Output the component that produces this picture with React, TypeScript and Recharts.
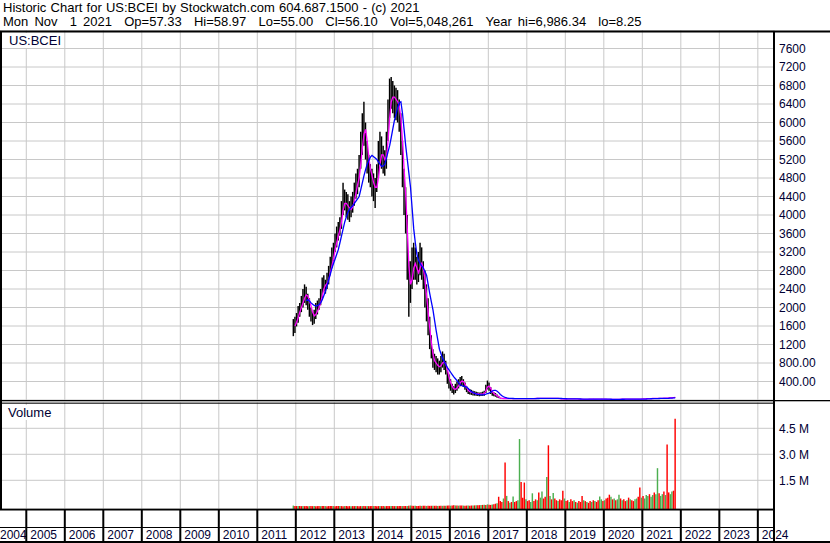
import React from 'react';
import { ComposedChart, Bar, Line, XAxis, YAxis, CartesianGrid, Cell } from 'recharts';

const FONT = '"Liberation Sans", Arial, sans-serif';
const LABEL = '#000033';

const HEADER_1 = 'Historic Chart for US:BCEI by Stockwatch.com 604.687.1500 - (c) 2021';
const HEADER_2 =
  'Mon Nov  1 2021  Op=57.33  Hi=58.97  Lo=55.00  Cl=56.10  Vol=5,048,261  Year hi=6,986.34  lo=8.25';

// half-month periods, the first one is the first half of Dec 2011 (IPO)
const FIRST_PERIOD = 2011 + 11 / 12 + 1 / 48;
const X_MIN = 2004.317;
const X_MAX = 2024.42;

const yearTicks = [2004, 2005, 2006, 2007, 2008, 2009, 2010, 2011, 2012, 2013, 2014, 2015, 2016, 2017, 2018, 2019, 2020, 2021, 2022, 2023, 2024];
const priceTicks = [400, 800, 1200, 1600, 2000, 2400, 2800, 3200, 3600, 4000, 4400, 4800, 5200, 5600, 6000, 6400, 6800, 7200, 7600];
const volumeTicks = [1500, 3000, 4500]; // thousands

// one row per year (Dec..Nov), 24 half-month periods each
const priceHigh = [
  1750, 1800, 1880, 2030, 2100, 2250, 2400, 2500, 2450, 2300, 2200, 2000, 1900, 1950, 2100, 2150, 2200, 2400, 2650, 2700, 2600, 2750, 2900, 3100,
  3300, 3400, 3600, 3750, 3850, 3950, 4300, 4700, 4550, 4500, 4450, 4300, 4400, 4500, 4700, 4900, 5000, 5300, 5800, 6200, 6450, 6000, 5600, 5300,
  5100, 5000, 4900, 4800, 5100, 5600, 5800, 5700, 5500, 5400, 5800, 6500, 6950, 6986, 6900, 6800, 6750, 6700, 6500, 6200, 5600, 5000, 4600, 4000,
  3000, 3000, 3300, 3400, 3300, 3100, 3200, 3400, 3300, 3000, 2800, 2500, 2200, 1800, 1400, 1100, 1000, 950, 900, 850, 950, 1050, 1000, 850,
  650, 550, 450, 350, 300, 350, 400, 450, 500, 520, 450, 380, 300, 250, 240, 220, 200, 190, 180, 170, 160, 170, 180, 200,
  330, 420, 380, 280, 200, 170, 150, 120, 90, 36, 35, 34, 33, 32, 31, 30, 31, 32, 33, 34, 33, 32, 31, 31,
  30, 32, 33, 31, 30, 32, 34, 35, 36, 37, 36, 35, 34, 35, 37, 36, 35, 37, 38, 39, 40, 38, 32, 28,
  24, 23, 25, 26, 27, 28, 27, 26, 25, 24, 22, 20, 18, 16, 15, 17, 19, 21, 22, 23, 22, 21, 22, 23,
  23, 22, 21, 19, 16, 12, 13, 15, 16, 17, 18, 17, 18, 19, 20, 19, 18, 19, 20, 19, 18, 19, 20, 21,
  22, 24, 26, 28, 30, 31, 32, 33, 35, 36, 37, 38, 39, 38, 40, 41, 43, 45, 47, 50, 53, 56, 59,
];

const priceLow = [
  1380, 1450, 1590, 1670, 1800, 1900, 2000, 2100, 2050, 1950, 1800, 1700, 1620, 1650, 1750, 1850, 1950, 2050, 2200, 2350, 2300, 2400, 2500, 2700,
  2850, 3000, 3200, 3300, 3450, 3550, 3700, 4000, 4100, 3950, 3900, 3850, 3950, 4050, 4200, 4350, 4450, 4600, 5000, 5300, 5500, 5200, 4900, 4700,
  4600, 4400, 4300, 4150, 4500, 4800, 5100, 5000, 4900, 4850, 5000, 5600, 6100, 6300, 6200, 6100, 6050, 6000, 5800, 5300, 4600, 4000, 3600, 2600,
  1800, 2100, 2400, 2600, 2600, 2500, 2550, 2700, 2600, 2400, 2000, 1700, 1400, 1100, 900, 700, 650, 600, 550, 550, 600, 700, 650, 550,
  350, 250, 200, 150, 120, 150, 200, 250, 300, 320, 280, 220, 170, 130, 120, 110, 100, 95, 90, 85, 80, 85, 90, 90,
  150, 230, 200, 130, 90, 80, 70, 50, 40, 28, 29, 28, 27, 26, 26, 25, 26, 27, 28, 29, 28, 27, 26, 27,
  26, 27, 28, 27, 26, 28, 29, 30, 31, 32, 31, 30, 30, 31, 32, 30, 30, 32, 33, 34, 34, 31, 26, 22,
  19, 19, 21, 22, 23, 24, 23, 22, 21, 20, 18, 16, 15, 13, 12, 14, 15, 17, 18, 19, 18, 18, 19, 20,
  20, 19, 17, 15, 12, 8, 9, 11, 12, 13, 14, 14, 15, 15, 16, 16, 15, 16, 17, 16, 15, 16, 17, 18,
  18, 20, 22, 24, 25, 27, 28, 29, 30, 31, 32, 33, 34, 33, 35, 36, 37, 39, 41, 44, 47, 50, 55,
];

// short moving average (magenta)
const maShort = [
  null, 1600, 1680, 1780, 1900, 2000, 2100, 2200, 2270, 2250, 2150, 2030, 1900, 1820, 1850, 1920, 2000, 2100, 2250, 2400, 2480, 2520, 2600, 2750,
  2900, 3050, 3250, 3400, 3550, 3680, 3850, 4100, 4250, 4250, 4200, 4150, 4120, 4180, 4300, 4480, 4650, 4800, 5100, 5450, 5750, 5850, 5600, 5250,
  5000, 4850, 4700, 4600, 4600, 4800, 5100, 5300, 5300, 5200, 5250, 5600, 6100, 6450, 6550, 6550, 6500, 6450, 6350, 6100, 5600, 5000, 4450, 3700,
  2900, 2500, 2600, 2850, 2950, 2850, 2750, 2850, 2950, 2850, 2600, 2250, 1900, 1550, 1250, 1000, 850, 800, 750, 720, 740, 800, 830, 780,
  650, 500, 380, 300, 240, 230, 260, 310, 370, 410, 400, 340, 270, 210, 180, 170, 155, 145, 135, 130, 125, 125, 130, 140,
  200, 280, 300, 250, 180, 140, 115, 90, 65, 45, 33, 32, 31, 30, 29, 28, 28, 29, 30, 31, 31, 30, 29, 29,
  28, 29, 30, 30, 29, 29, 31, 32, 33, 34, 34, 33, 33, 33, 34, 34, 33, 34, 35, 36, 37, 36, 32, 27,
  23, 21, 22, 23, 24, 25, 25, 25, 24, 23, 21, 19, 17, 15, 14, 15, 16, 18, 19, 20, 20, 20, 20, 21,
  21, 21, 20, 18, 15, 12, 11, 12, 13, 14, 15, 15, 16, 17, 17, 17, 17, 17, 18, 18, 17, 17, 18, 19,
  19, 21, 23, 25, 27, 28, 29, 30, 32, 33, 34, 35, 36, 36, 37, 38, 39, 41, 43, 46, 49, 52, 55,
];

// long moving average (blue)
const maLong = [
  null, null, null, null, null, null, null, null, 2150, 2170, 2140, 2100, 2070, 2045, 2030, 2040, 2065, 2100, 2170, 2260, 2350, 2470, 2600, 2720,
  2850, 2950, 3050, 3150, 3250, 3400, 3550, 3700, 3850, 3960, 4060, 4120, 4170, 4200, 4250, 4300, 4350, 4400, 4550, 4700, 4850, 4980, 5100, 5180,
  5250, 5290, 5260, 5230, 5200, 5150, 5100, 5050, 5060, 5100, 5230, 5370, 5500, 5680, 5870, 6050, 6180, 6320, 6430, 6450, 6200, 5850, 5500, 5200,
  4900, 4600, 4150, 3700, 3400, 3150, 3020, 2950, 2900, 2850, 2780, 2700, 2500, 2300, 2120, 1950, 1720, 1500, 1300, 1100, 1000, 900, 830, 770,
  700, 650, 600, 550, 500, 460, 420, 370, 330, 310, 300, 290, 280, 250, 210, 180, 160, 145, 130, 120, 115, 112, 110, 115,
  125, 140, 150, 170, 195, 210, 210, 190, 160, 120, 90, 70, 55, 45, 38, 35, 33, 32, 31, 31, 31, 31, 30, 30,
  30, 30, 30, 30, 30, 30, 31, 31, 32, 32, 33, 33, 33, 33, 34, 34, 34, 34, 35, 35, 35, 35, 34, 32,
  30, 28, 27, 26, 25, 24, 24, 24, 24, 23, 23, 22, 21, 20, 19, 18, 18, 18, 19, 19, 20, 20, 20, 20,
  20, 20, 20, 19, 18, 17, 16, 15, 15, 14, 14, 15, 15, 16, 16, 17, 17, 17, 17, 17, 17, 18, 18, 18,
  18, 19, 20, 21, 22, 24, 25, 27, 28, 29, 30, 31, 32, 33, 34, 35, 36, 37, 38, 40, 42, 44, 46,
];

// volume in thousands of shares
const volume = [
  40, 20, 15, 12, 18, 10, 14, 9, 12, 8, 11, 10, 9, 12, 8, 10, 13, 9, 11, 10, 12, 9, 14, 11,
  10, 12, 9, 15, 11, 10, 13, 9, 12, 10, 8, 11, 9, 12, 10, 14, 11, 9, 13, 10, 12, 9, 11, 10,
  12, 10, 14, 11, 9, 13, 10, 12, 11, 9, 13, 10, 11, 14, 12, 10, 13, 11, 15, 12, 14, 16, 18, 20,
  30, 45, 35, 25, 28, 22, 20, 25, 24, 30, 26, 22, 28, 25, 30, 35, 28, 25, 22, 26, 30, 28, 32, 35,
  40, 45, 35, 50, 55, 48, 42, 38, 45, 50, 40, 36, 40, 42, 38, 45, 48, 52, 55, 60, 65, 70, 80, 90,
  70, 110, 90, 80, 100, 120, 150, 180, 550, 300, 250, 450, 2530, 600, 300, 200, 250, 570, 250, 300, 350, 3880, 1400, 500,
  1370, 400, 300, 350, 250, 750, 300, 400, 350, 800, 500, 850, 450, 550, 1690, 3520, 600, 400, 770, 450, 350, 300, 400, 350,
  900, 450, 300, 350, 250, 400, 300, 350, 250, 200, 300, 250, 600, 350, 300, 250, 200, 300, 250, 350, 300, 250, 350, 570,
  400, 300, 350, 450, 500, 670, 550, 400, 450, 350, 400, 670, 450, 350, 400, 300, 350, 500, 400, 350, 300, 400, 450, 550,
  1090, 500, 600, 450, 650, 600, 700, 550, 650, 800, 700, 2200, 750, 600, 700, 850, 650, 3560, 800, 700, 850, 900, 5050,
];

// 1 = up period (green), 0 = down period (red)
const volumeUp = [
  1, 0, 0, 1, 0, 0, 1, 0, 0, 0, 1, 0, 0, 1, 0, 0, 0, 1, 0, 0, 1, 0, 0, 0,
  0, 1, 0, 0, 0, 1, 0, 0, 1, 0, 0, 0, 1, 0, 0, 1, 0, 0, 0, 1, 0, 0, 1, 0,
  0, 0, 1, 0, 0, 0, 1, 0, 0, 1, 0, 0, 0, 1, 0, 0, 1, 0, 0, 0, 1, 0, 0, 1,
  0, 1, 0, 0, 1, 0, 0, 0, 1, 0, 0, 1, 0, 0, 0, 1, 0, 0, 1, 0, 0, 1, 0, 1,
  0, 0, 1, 0, 0, 1, 0, 1, 0, 0, 1, 0, 0, 1, 0, 0, 1, 0, 1, 0, 0, 1, 0, 1,
  0, 1, 0, 0, 1, 0, 0, 1, 0, 0, 0, 1, 0, 1, 0, 1, 0, 1, 0, 0, 1, 1, 0, 0,
  0, 1, 0, 0, 1, 1, 0, 0, 1, 0, 1, 1, 0, 0, 1, 0, 1, 0, 1, 0, 0, 1, 0, 0,
  0, 1, 0, 0, 1, 0, 0, 1, 0, 1, 0, 0, 0, 1, 0, 1, 0, 0, 1, 0, 1, 0, 0, 1,
  1, 0, 1, 0, 0, 0, 1, 0, 1, 0, 1, 1, 0, 1, 0, 0, 1, 0, 1, 0, 0, 1, 1, 0,
  0, 1, 0, 1, 1, 1, 0, 1, 1, 0, 1, 1, 0, 1, 1, 0, 1, 0, 0, 1, 1, 0, 0,
];

const VOL_FLOOR = -156; // bottom edge of the volume panel, below zero

const rows = priceHigh.map((hi, i) => ({
  t: FIRST_PERIOD + i / 24,
  hi,
  lo: priceLow[i],
  ma1: maShort[i],
  ma2: maLong[i],
  vol: volume[i],
  up: volumeUp[i],
}));

const fmtPrice = (v: number) => (v < 1000 ? v.toFixed(2) : String(v));

const RightTick = ({ x, y, payload, fmt }: any) => (
  <text x={x + 5} y={y} dy="0.36em" fontSize={12} fontFamily={FONT} fill={LABEL}>
    {fmt(payload.value)}
  </text>
);

const YearTick = ({ x, y, payload }: any) => (
  <g>
    <line x1={x} x2={x} y1={y} y2={y + 33} stroke="#000" strokeWidth={2} />
    <text x={Math.max(x + 4, 0)} y={y + 30} fontSize={12} fontFamily={FONT} fill={LABEL}>
      {payload.value}
    </text>
  </g>
);

export default function App() {
  return (
    <div style={{ position: 'absolute', left: 0, top: 0, width: 830, height: 543, background: '#fff', overflow: 'hidden', fontFamily: FONT }}>
      <div style={{ position: 'absolute', left: 3, top: 0, fontSize: 13, lineHeight: '15px', whiteSpace: 'pre', wordSpacing: 0.6, color: '#000' }}>{HEADER_1}</div>
      <div style={{ position: 'absolute', left: 3, top: 14, fontSize: 13, lineHeight: '15px', whiteSpace: 'pre', wordSpacing: 2.5, color: '#000' }}>{HEADER_2}</div>

      {/* price panel */}
      <div style={{ position: 'absolute', left: 0, top: 30 }}>
        <ComposedChart width={830} height={370} data={rows} margin={{ top: 0, right: 0, bottom: 0, left: 0 }}>
          <CartesianGrid stroke="#c8c8c8" />
          <XAxis dataKey="t" type="number" domain={[X_MIN, X_MAX]} ticks={yearTicks} hide allowDataOverflow />
          <YAxis
            orientation="right"
            width={56}
            domain={[0, 8000]}
            ticks={priceTicks}
            interval={0}
            tickSize={0}
            tickMargin={0}
            axisLine={false}
            tick={<RightTick fmt={fmtPrice} />}
            allowDataOverflow
          />
          <Bar dataKey={(d: any) => [d.lo, d.hi]} fill="#000" barSize={2} isAnimationActive={false} />
          <Line dataKey="ma1" stroke="#ff00ff" strokeWidth={1.3} dot={false} isAnimationActive={false} />
          <Line dataKey="ma2" stroke="#0000ff" strokeWidth={1.3} dot={false} isAnimationActive={false} />
        </ComposedChart>
      </div>

      {/* volume panel + year axis */}
      <div style={{ position: 'absolute', left: 0, top: 402 }}>
        <ComposedChart width={830} height={140} data={rows} margin={{ top: 0, right: 0, bottom: 0, left: 0 }}>
          <CartesianGrid stroke="#c8c8c8" />
          <XAxis
            dataKey="t"
            type="number"
            domain={[X_MIN, X_MAX]}
            ticks={yearTicks}
            interval={0}
            height={33}
            tickSize={0}
            tickMargin={0}
            axisLine={false}
            tick={<YearTick />}
            allowDataOverflow
          />
          <YAxis
            orientation="right"
            width={56}
            domain={[VOL_FLOOR, 6018]}
            ticks={volumeTicks}
            interval={0}
            tickSize={0}
            tickMargin={0}
            axisLine={false}
            tick={<RightTick fmt={(v: number) => (v / 1000).toFixed(1) + ' M'} />}
            allowDataOverflow
          />
          <Bar dataKey={(d: any) => [VOL_FLOOR, d.vol]} barSize={2} isAnimationActive={false}>
            {rows.map((r, i) => (
              <Cell key={i} fill={r.up ? '#4caf50' : '#ff0000'} />
            ))}
          </Bar>
        </ComposedChart>
      </div>

      {/* panel labels */}
      <div style={{ position: 'absolute', left: 2, top: 33, width: 60, height: 15, background: '#fff' }} />
      <div style={{ position: 'absolute', left: 9, top: 33, fontSize: 13, lineHeight: '15px', color: LABEL }}>US:BCEI</div>
      <div style={{ position: 'absolute', left: 2, top: 405, width: 60, height: 15, background: '#fff' }} />
      <div style={{ position: 'absolute', left: 8, top: 405, fontSize: 13, lineHeight: '15px', color: LABEL }}>Volume</div>

      {/* frame */}
      <svg width={830} height={543} style={{ position: 'absolute', left: 0, top: 0, pointerEvents: 'none' }}>
        <rect x={0} y={30.5} width={830} height={2} fill="#000" />
        <rect x={0} y={31} width={2} height={479} fill="#000" />
        <rect x={773} y={31} width={2} height={512} fill="#000" />
        <rect x={0} y={400} width={830} height={1.3} fill="#000" />
        <rect x={0} y={402.7} width={774} height={1} fill="#000" />
        <rect x={0} y={508.7} width={774} height={1.8} fill="#000" />
        <rect x={0} y={527} width={774} height={1} fill="#000" />
        <rect x={0} y={541} width={830} height={2} fill="#000" />
      </svg>
    </div>
  );
}
